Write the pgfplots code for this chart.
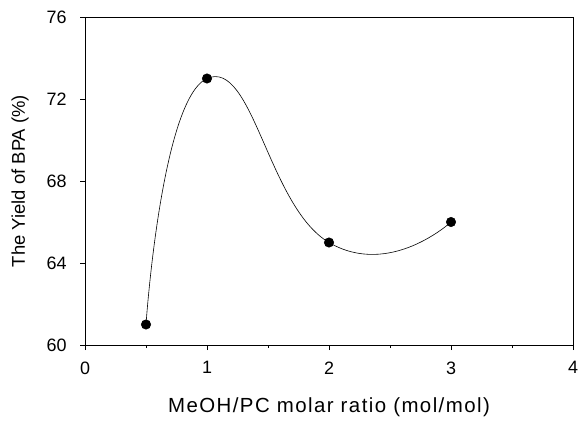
\documentclass[border=0pt]{standalone}
\usepackage{pgfplots}
\pgfplotsset{compat=1.18}
\usepackage{fontspec}
\setmainfont{Liberation Sans}
\newfontfamily\xlfont{Liberation Sans}[LetterSpace=7]
\begin{document}
\begin{tikzpicture}[x=1bp,y=1bp]
\path[use as bounding box] (0,0) rectangle (579,421);
\begin{axis}[
    at={(85bp,76bp)},
    anchor=south west,
    scale only axis,
    width=488bp,
    height=328bp,
    xmin=0, xmax=4,
    ymin=60, ymax=76,
    xtick={0,1,2,3,4},
    ytick={60,64,68,72,76},
    minor xtick={0.5,1.5,2.5,3.5},
    tick align=outside,
    tick pos=left,
    major tick length=5bp,
    minor tick length=3bp,
    axis line style={line width=0.8pt},
    tick style={black, line width=0.6pt},
    /pgf/number format/assume math mode=true,
    tick label style={font=\fontsize{18}{21}\selectfont},
    xticklabel style={yshift=-8bp},
    yticklabel style={xshift=-10bp},
    xlabel={\xlfont MeOH/PC molar ratio (mol/mol)},
    ylabel={The Yield of BPA (\%)},
    xlabel style={font=\fontsize{20.5}{24}\selectfont, at={(axis description cs:0.5,-0.189)}, anchor=center},
    ylabel style={font=\fontsize{18.5}{22}\selectfont, at={(axis description cs:-0.133,0.5)}, anchor=center},
]
\addplot[black, line width=0.6pt, smooth, tension=0.9, mark=*, mark size=4.7bp, mark options={fill=black}]
coordinates {(0.5,61) (1,73) (2,65) (3,66)};
\end{axis}
\end{tikzpicture}
\end{document}
